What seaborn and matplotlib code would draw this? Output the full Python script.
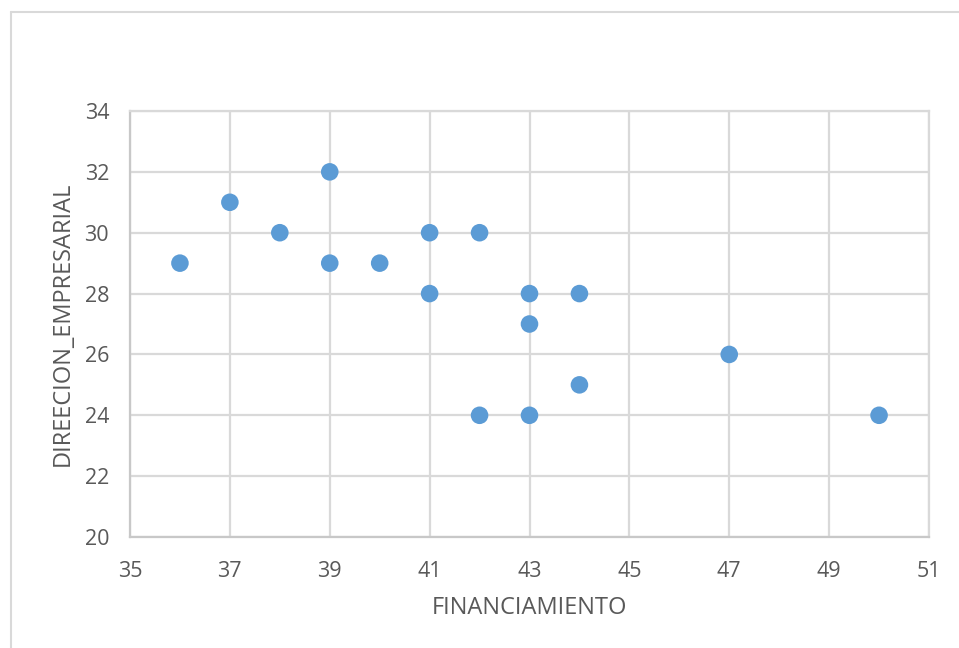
import matplotlib
matplotlib.use("Agg")
import matplotlib.pyplot as plt
from matplotlib.lines import Line2D
import seaborn as sns
import pandas as pd

# Observations: financing score vs. business management score
financiamiento = [36, 37, 38, 39, 39, 40, 41, 41, 42, 42, 43, 43, 43, 44, 44, 47, 50]
direccion_empresarial = [29, 31, 30, 32, 29, 29, 30, 28, 30, 24, 28, 27, 24, 28, 25, 26, 24]

x_ticks = [35, 37, 39, 41, 43, 45, 47, 49, 51]
y_ticks = [20, 22, 24, 26, 28, 30, 32, 34]

df = pd.DataFrame({"FINANCIAMIENTO": financiamiento,
                   "DIREECION_EMPRESARIAL": direccion_empresarial})

sns.set_theme(style="white")
plt.rcParams["font.family"] = ["Open Sans", "DejaVu Sans"]

W, H = 959, 648
fig = plt.figure(figsize=(W / 100, H / 100), dpi=100)
ax = fig.add_axes([130 / W, 1 - 537 / H, (929 - 130) / W, (537 - 111) / H])

grid_color = "#D9D9D9"
text_color = "#595959"

sns.scatterplot(data=df, x="FINANCIAMIENTO", y="DIREECION_EMPRESARIAL", ax=ax,
                color="#5B9BD5", s=160, edgecolor="none", zorder=3)

ax.set_xlim(x_ticks[0], x_ticks[-1])
ax.set_ylim(y_ticks[0], y_ticks[-1])
ax.set_xticks(x_ticks)
ax.set_yticks(y_ticks)
ax.grid(True, color=grid_color, linewidth=1.6)
ax.set_axisbelow(True)
for side, spine in ax.spines.items():
    spine.set_visible(True)
    spine.set_color(grid_color if side in ("top", "right") else "#C8C8C8")
    spine.set_linewidth(1.6)

ax.tick_params(axis="both", length=0, labelsize=15.5, labelcolor=text_color)
ax.tick_params(axis="x", pad=17)
ax.tick_params(axis="y", pad=15)
ax.set_xlabel("FINANCIAMIENTO", fontsize=17, color=text_color, labelpad=10)
ax.set_ylabel("DIREECION_EMPRESARIAL", fontsize=17, color=text_color, labelpad=7)

# Chart-area frame
fig.add_artist(Line2D([10.5 / W, 10.5 / W], [0, 1 - 12 / H], transform=fig.transFigure,
                      color=grid_color, linewidth=1.5))
fig.add_artist(Line2D([10.5 / W, 1], [1 - 12 / H, 1 - 12 / H], transform=fig.transFigure,
                      color=grid_color, linewidth=1.5))

fig.savefig("out.png", dpi=100, facecolor="white")
